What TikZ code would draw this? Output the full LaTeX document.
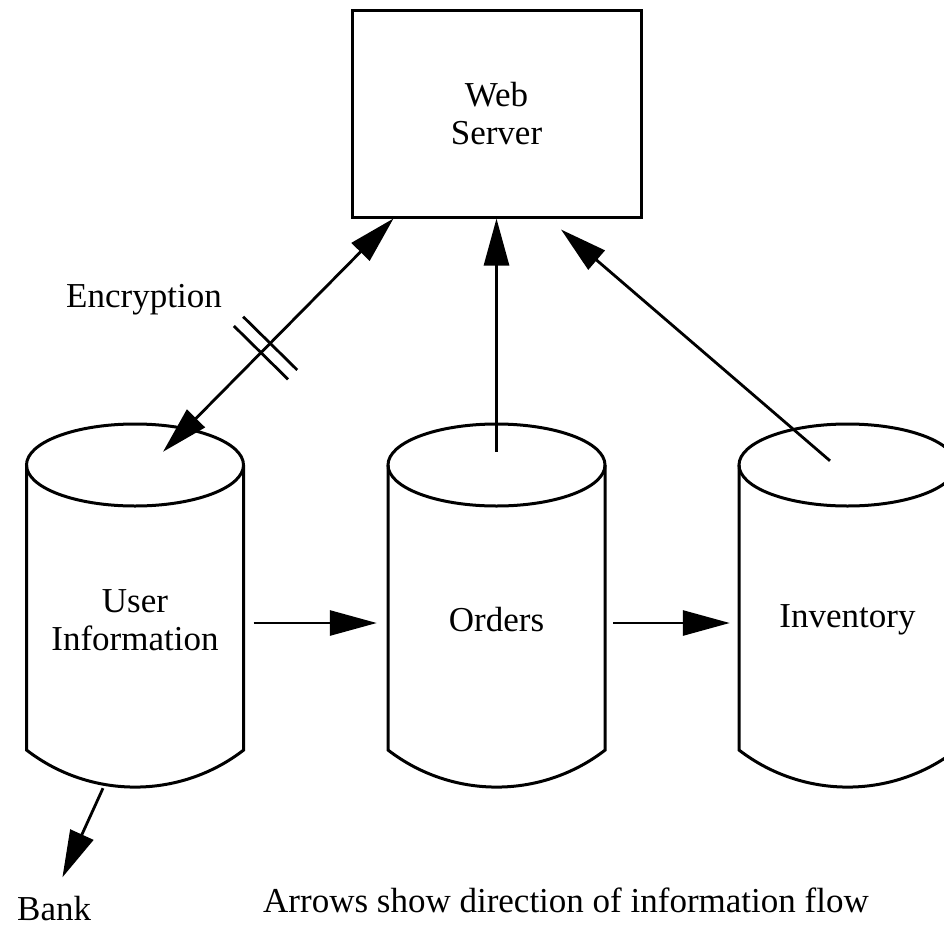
\documentclass[tikz,border=0pt]{standalone}
\usepackage{fontspec}
\setmainfont{Liberation Serif}
\usetikzlibrary{arrows.meta, calc}

% one database drawn as an open cylinder round its own centre
\tikzset{
  pics/dbcyl/.style={code={
    \draw[line width=3pt] (-108.5,-155) -- (-108.5,130)
      arc[start angle=127.7, end angle=52.3, radius=177.6] -- (108.5,-155);
    \draw[line width=3pt] (0,-155) ellipse [x radius=108.5, y radius=41];
  }},
  db/.style={minimum width=217pt, minimum height=336pt, inner sep=0pt, align=center},
  server/.style={draw, line width=3pt, minimum width=289pt, minimum height=207pt, align=center},
  flow/.style={line width=2.8pt, -{Triangle[length=47pt, width=25pt]}},
  lbl/.style={inner sep=0pt}
}

\begin{document}
\begin{tikzpicture}[x=1pt, y=-1pt, font=\fontsize{35}{38}\selectfont]
\useasboundingbox (0,0) rectangle (944,926);
\clip (0,0) rectangle (944,926);

% the web server
\node[server] (web) at (496.5,113.5) {Web\\Server};

% the three databases
\pic at (135,620) {dbcyl};
\pic at (496.5,620) {dbcyl};
\pic at (847.5,620) {dbcyl};
\node[db] (user) at (135,620) {User\\Information};
\node[db] (orders) at (496.5,620) {Orders};
\node[db] (inventory) at (847.5,620) {Inventory};

% free labels
\node[lbl, anchor=base] (enc) at (144,307) {Encryption};
\node[lbl, anchor=base west] (bank) at (17,920) {Bank};
\node[lbl, anchor=base west] (note) at (263,912) {Arrows show direction of information flow};

% the links
\draw[flow, {Triangle[length=47pt, width=25pt]}-{Triangle[length=47pt, width=25pt]}]
  ([xshift=28pt]user.north) -- ([xshift=43pt]web.south west)
  coordinate[pos=0.425] (t1) coordinate[pos=0.465] (t2);
\draw[line width=2.8pt] ($(t1)!38pt!90:(web)$) -- ($(t1)!38pt!-90:(web)$);
\draw[line width=2.8pt] ($(t2)!38pt!90:(web)$) -- ($(t2)!38pt!-90:(web)$);

\draw[flow] (orders.north) -- (web.south);
\draw[flow] ([xshift=-17.5pt, yshift=-9pt]inventory.north) -- ([xshift=64.5pt, yshift=-11pt]web.south);
\draw[flow, shorten <=10pt, shorten >=11pt] ([yshift=-3pt]user.east) -- ([yshift=-3pt]orders.west);
\draw[flow, shorten <=8pt, shorten >=9pt] ([yshift=-3pt]orders.east) -- ([yshift=-3pt]inventory.west);
\draw[flow, shorten >=20pt] ([xshift=-32pt]user.south) -- (bank.north);
\end{tikzpicture}
\end{document}
